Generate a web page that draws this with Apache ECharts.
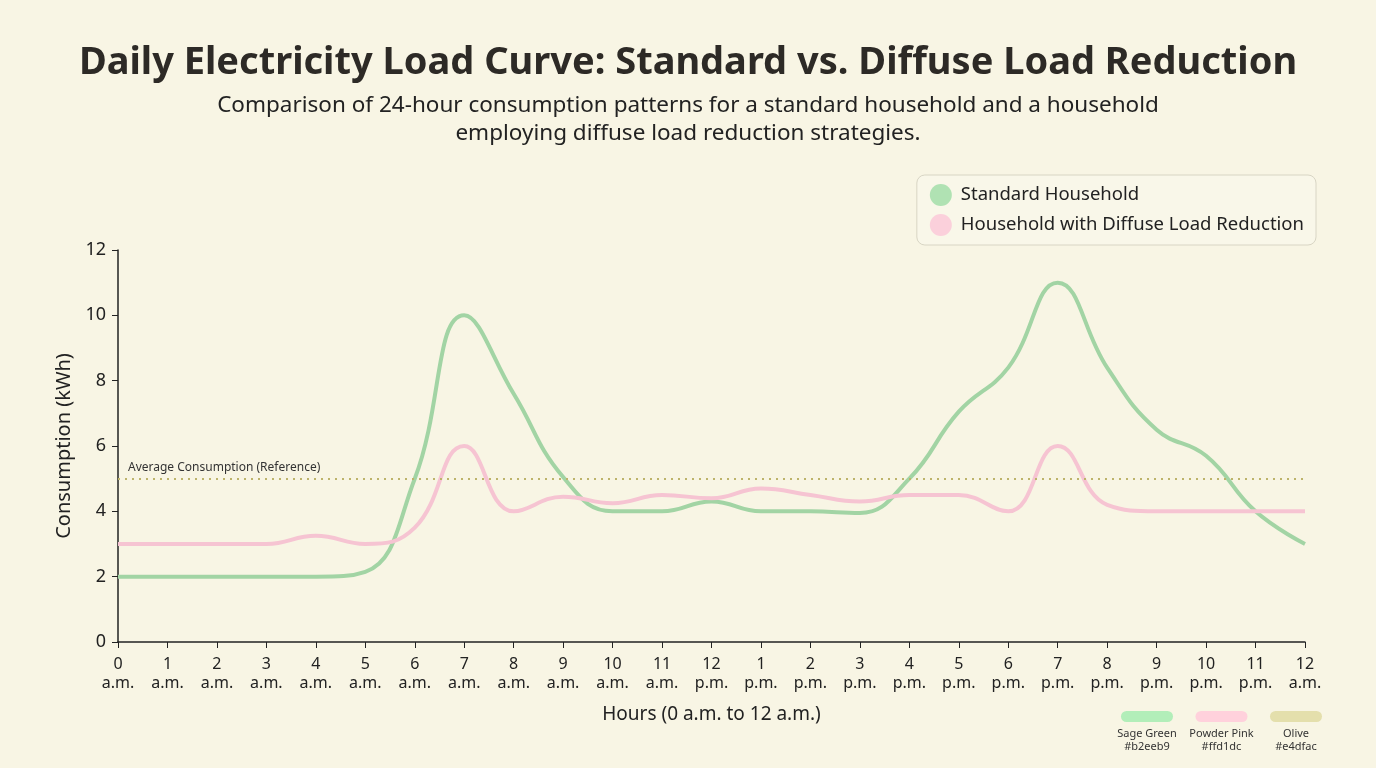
<!DOCTYPE html>
<html>
<head>
<meta charset="utf-8">
<script src="https://cdn.jsdelivr.net/npm/echarts@6/dist/echarts.min.js"></script>
<style>
  html, body { margin: 0; padding: 0; background: #f8f5e4; }
  #chart { width: 1376px; height: 768px; }
</style>
</head>
<body>
<div id="chart"></div>
<script>
// hours of the day, 0 a.m. through 12 a.m. (next midnight)
const hourLabels = [
  '0\na.m.', '1\na.m.', '2\na.m.', '3\na.m.', '4\na.m.', '5\na.m.', '6\na.m.',
  '7\na.m.', '8\na.m.', '9\na.m.', '10\na.m.', '11\na.m.', '12\np.m.',
  '1\np.m.', '2\np.m.', '3\np.m.', '4\np.m.', '5\np.m.', '6\np.m.',
  '7\np.m.', '8\np.m.', '9\np.m.', '10\np.m.', '11\np.m.', '12\na.m.'
]
const standardLoad = [2, 2, 2, 2, 2, 2.15, 5, 10, 7.6, 5.05, 4.0, 4.0, 4.3,
  4.0, 4.0, 3.95, 5.0, 7.05, 8.4, 11, 8.4, 6.5, 5.7, 4.0, 3.0]
const diffuseLoad = [3, 3, 3, 3, 3.25, 3.0, 3.5, 6, 4.0, 4.45, 4.25, 4.5, 4.4,
  4.7, 4.5, 4.3, 4.5, 4.5, 4.0, 6, 4.2, 4.0, 4.0, 4.0, 4.0]
const averageRef = 5
const swatches = [
  { name: 'Sage Green', hex: '#b2eeb9' },
  { name: 'Powder Pink', hex: '#ffd1dc' },
  { name: 'Olive', hex: '#e4dfac' }
]

const chart = echarts.init(document.getElementById('chart'))
const font = '"Noto Sans", Lato, sans-serif'

const swatchGraphics = []
swatches.forEach((s, i) => {
  const cx = 1147 + i * 74.5
  swatchGraphics.push({
    type: 'rect', x: cx - 26, y: 711,
    shape: { width: 52, height: 11, r: 5.5 },
    style: { fill: s.hex }
  })
  swatchGraphics.push({
    type: 'text', x: cx, y: 727,
    style: {
      text: s.name + '\n' + s.hex, align: 'center', verticalAlign: 'top',
      font: '11px ' + font, fill: '#333', lineHeight: 13
    }
  })
})

chart.setOption({
  backgroundColor: '#f8f5e4',
  textStyle: { fontFamily: font },
  title: {
    text: 'Daily Electricity Load Curve: Standard vs. Diffuse Load Reduction',
    subtext: 'Comparison of 24-hour consumption patterns for a standard household and a household\nemploying diffuse load reduction strategies.',
    left: 'center',
    top: 39,
    itemGap: 10,
    textStyle: { fontSize: 38, fontWeight: 'bold', color: '#2d2a26', fontFamily: font },
    subtextStyle: { fontSize: 22.5, color: '#222', lineHeight: 28, fontFamily: font, align: 'center' }
  },
  legend: {
    orient: 'vertical',
    right: 60,
    top: 175,
    padding: [9, 12, 9, 13],
    itemGap: 8,
    itemWidth: 22,
    itemHeight: 22,
    icon: 'circle',
    backgroundColor: 'rgba(250,248,236,0.6)',
    borderColor: '#d8d5c4',
    borderWidth: 1,
    borderRadius: 8,
    textStyle: { fontSize: 18.5, color: '#222', padding: [0, 0, 0, 4] },
    data: ['Standard Household', 'Household with Diffuse Load Reduction']
  },
  grid: { left: 118, right: 71, top: 250, bottom: 126 },
  xAxis: {
    type: 'category',
    data: hourLabels,
    boundaryGap: false,
    name: 'Hours (0 a.m. to 12 a.m.)',
    nameLocation: 'middle',
    nameGap: 63,
    nameTextStyle: { fontSize: 19, color: '#222' },
    axisLine: { lineStyle: { color: '#222', width: 1.5 } },
    axisTick: { show: true, alignWithLabel: true, length: 6, lineStyle: { color: '#222' } },
    axisLabel: { fontSize: 16, color: '#222', lineHeight: 19, margin: 13, interval: 0 },
    splitLine: { show: false }
  },
  yAxis: {
    type: 'value',
    min: 0,
    max: 12,
    interval: 2,
    name: 'Consumption (kWh)',
    nameLocation: 'middle',
    nameGap: 42,
    nameTextStyle: { fontSize: 20, color: '#222' },
    axisLine: { show: true, lineStyle: { color: '#222', width: 1.5 } },
    axisTick: { show: true, length: 6, lineStyle: { color: '#222' } },
    axisLabel: { fontSize: 18, color: '#222', margin: 12 },
    splitLine: { show: false }
  },
  series: [
    {
      name: 'Standard Household',
      type: 'line',
      data: standardLoad,
      smooth: 0.45,
      showSymbol: false,
      symbol: 'circle',
      color: '#b0e2b3',
      lineStyle: { width: 4, color: '#a2d4a4' },
      markLine: {
        silent: true,
        symbol: 'none',
        lineStyle: { type: [2, 5], color: '#bdb36a', width: 2 },
        label: {
          position: 'insideStartTop',
          formatter: 'Average Consumption (Reference)',
          fontSize: 12,
          color: '#333',
          distance: [10, 5]
        },
        data: [{ yAxis: averageRef }]
      }
    },
    {
      name: 'Household with Diffuse Load Reduction',
      type: 'line',
      data: diffuseLoad,
      smooth: 0.45,
      showSymbol: false,
      symbol: 'circle',
      color: '#fbd0db',
      lineStyle: { width: 4, color: '#f6c4d2' }
    }
  ],
  graphic: swatchGraphics
})
</script>
</body>
</html>
